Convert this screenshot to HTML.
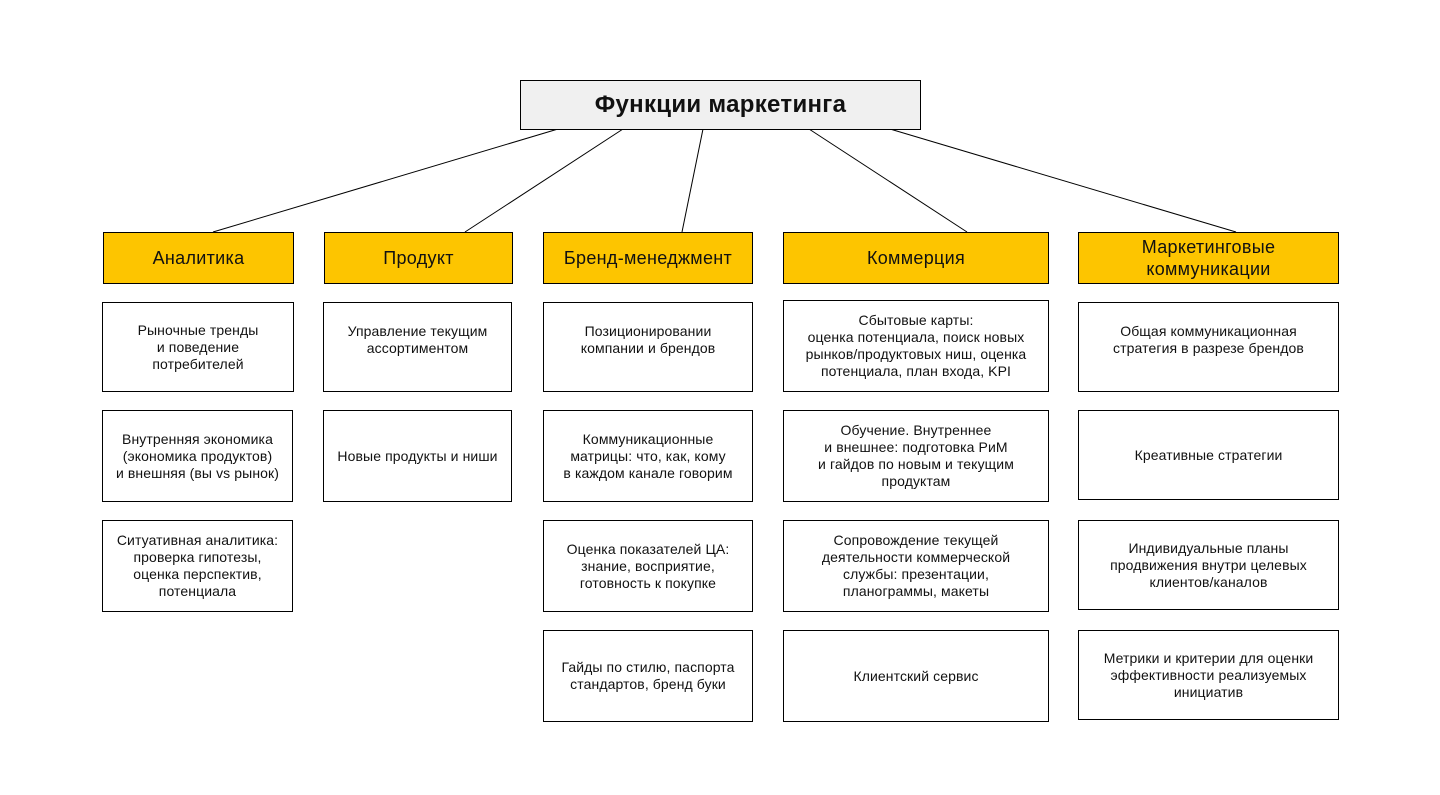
<!DOCTYPE html>
<html><head><meta charset="utf-8"><style>
body{margin:0;width:1440px;height:795px;background:#fff;position:relative;font-family:"Liberation Sans","DejaVu Sans",sans-serif;overflow:hidden}
.b{position:absolute;box-sizing:border-box;border:1px solid #000;display:flex;align-items:center;justify-content:center;text-align:center;color:#111}
.t{background:#f0f0f0;font-weight:bold;font-size:24px;letter-spacing:0.3px}
.h{background:#fdc500;font-size:18px;line-height:22px;letter-spacing:0.3px}
.s{background:#fff;font-size:14px;line-height:17px;padding:0 4px;letter-spacing:0.1px;white-space:nowrap}
svg{position:absolute;left:0;top:0}
</style></head><body>
<svg width="1440" height="795"><g stroke="#000" stroke-width="1">
<line x1="558" y1="129" x2="213" y2="232"/>
<line x1="623" y1="129" x2="465" y2="232"/>
<line x1="703" y1="129" x2="682" y2="232"/>
<line x1="809" y1="129" x2="967" y2="232"/>
<line x1="890" y1="129" x2="1236" y2="232"/>
</g></svg>
<div class="b t" style="left:520px;top:80px;width:401px;height:50px">Функции маркетинга</div>

<div class="b h" style="left:103px;top:232px;width:191px;height:52px">Аналитика</div>
<div class="b h" style="left:324px;top:232px;width:189px;height:52px">Продукт</div>
<div class="b h" style="left:543px;top:232px;width:210px;height:52px">Бренд-менеджмент</div>
<div class="b h" style="left:783px;top:232px;width:266px;height:52px">Коммерция</div>
<div class="b h" style="left:1078px;top:232px;width:261px;height:52px">Маркетинговые<br>коммуникации</div>

<div class="b s" style="left:102px;top:302px;width:192px;height:90px">Рыночные тренды<br>и поведение<br>потребителей</div>
<div class="b s" style="left:102px;top:410px;width:191px;height:92px">Внутренняя экономика<br>(экономика продуктов)<br>и внешняя (вы vs рынок)</div>
<div class="b s" style="left:102px;top:520px;width:191px;height:92px">Ситуативная аналитика:<br>проверка гипотезы,<br>оценка перспектив,<br>потенциала</div>

<div class="b s" style="left:323px;top:302px;width:189px;height:90px;padding-bottom:14px">Управление текущим<br>ассортиментом</div>
<div class="b s" style="left:323px;top:410px;width:189px;height:92px">Новые продукты и ниши</div>

<div class="b s" style="left:543px;top:302px;width:210px;height:90px;padding-bottom:14px">Позиционировании<br>компании и брендов</div>
<div class="b s" style="left:543px;top:410px;width:210px;height:92px">Коммуникационные<br>матрицы: что, как, кому<br>в каждом канале говорим</div>
<div class="b s" style="left:543px;top:520px;width:210px;height:92px">Оценка показателей ЦА:<br>знание, восприятие,<br>готовность к покупке</div>
<div class="b s" style="left:543px;top:630px;width:210px;height:92px">Гайды по стилю, паспорта<br>стандартов, бренд буки</div>

<div class="b s" style="left:783px;top:300px;width:266px;height:92px">Сбытовые карты:<br>оценка потенциала, поиск новых<br>рынков/продуктовых ниш, оценка<br>потенциала, план входа, KPI</div>
<div class="b s" style="left:783px;top:410px;width:266px;height:92px">Обучение. Внутреннее<br>и внешнее: подготовка РиМ<br>и гайдов по новым и текущим<br>продуктам</div>
<div class="b s" style="left:783px;top:520px;width:266px;height:92px">Сопровождение текущей<br>деятельности коммерческой<br>службы: презентации,<br>планограммы, макеты</div>
<div class="b s" style="left:783px;top:630px;width:266px;height:92px">Клиентский сервис</div>

<div class="b s" style="left:1078px;top:302px;width:261px;height:90px;padding-bottom:14px">Общая коммуникационная<br>стратегия в разрезе брендов</div>
<div class="b s" style="left:1078px;top:410px;width:261px;height:90px">Креативные стратегии</div>
<div class="b s" style="left:1078px;top:520px;width:261px;height:90px">Индивидуальные планы<br>продвижения внутри целевых<br>клиентов/каналов</div>
<div class="b s" style="left:1078px;top:630px;width:261px;height:90px">Метрики и критерии для оценки<br>эффективности реализуемых<br>инициатив</div>
</body></html>
